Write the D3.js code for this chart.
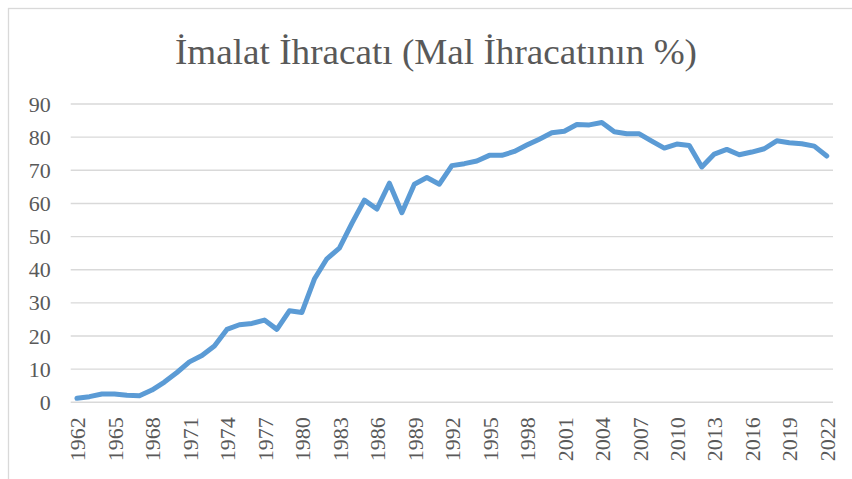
<!DOCTYPE html>
<html>
<head>
<meta charset="utf-8">
<script src="https://cdn.jsdelivr.net/npm/d3@7"></script>
<style>
	body { margin: 0; background: #fff; }
	svg { display: block; }
</style>
</head>
<body>
<div id="chart"></div>
<script>
'use strict'

const years = d3.range(1962, 2023)

const values = [
	1.2, 1.7, 2.5, 2.5, 2.1, 2.0, 3.7, 6.1, 9.0, 12.2,
	14.1, 17.0, 22.0, 23.4, 23.8, 24.8, 22.0, 27.6, 27.1, 37.2,
	43.3, 46.5, 54.0, 61.0, 58.3, 66.1, 57.2, 65.8, 67.8, 65.8,
	71.4, 72.0, 72.8, 74.5, 74.5, 75.7, 77.6, 79.4, 81.3, 81.8,
	83.8, 83.7, 84.4, 81.6, 81.0, 81.0, 78.8, 76.7, 77.9, 77.5,
	71.0, 74.9, 76.3, 74.7, 75.5, 76.5, 78.9, 78.3, 78.0, 77.3, 74.3
]

const yTicks = [0, 10, 20, 30, 40, 50, 60, 70, 80, 90]
const xTickLabels = years.filter((y) => (y - 1962) % 3 === 0)

const title = 'İmalat İhracatı (Mal İhracatının %)'

const width = 852
const height = 479
const plot = {left: 70.7, right: 833, top: 104, bottom: 402.3}
const font = '"Liberation Serif", "Times New Roman", serif'

const svg = d3.select('#chart').append('svg')
	.attr('width', width)
	.attr('height', height)

// chart frame, runs off the right and bottom edges
svg.append('rect')
	.attr('x', 8.5)
	.attr('y', 8.5)
	.attr('width', 860)
	.attr('height', 480)
	.attr('fill', '#fff')
	.attr('stroke', '#d9d9d9')
	.attr('stroke-width', 1.3)

svg.append('text')
	.attr('x', 436)
	.attr('y', 64)
	.attr('text-anchor', 'middle')
	.attr('textLength', 522)
	.attr('lengthAdjust', 'spacingAndGlyphs')
	.style('font-family', font)
	.style('font-size', '35px')
	.style('fill', '#595959')
	.text(title)

const x = d3.scalePoint()
	.domain(years)
	.range([plot.left, plot.right])
	.padding(0.5)

const y = d3.scaleLinear()
	.domain([0, 90])
	.range([plot.bottom, plot.top])

// gridlines
svg.append('g')
	.selectAll('line')
	.data(yTicks)
	.enter()
	.append('line')
	.attr('x1', plot.left)
	.attr('x2', plot.right)
	.attr('y1', (d) => y(d))
	.attr('y2', (d) => y(d))
	.attr('stroke', '#d9d9d9')
	.attr('stroke-width', 1.4)

const yAxis = svg.append('g')
	.attr('transform', `translate(${plot.left - 20},0)`)
	.call(d3.axisLeft(y).tickValues(yTicks).tickSize(0).tickPadding(0))
yAxis.select('.domain').remove()
yAxis.selectAll('text')
	.style('font-family', font)
	.style('font-size', '22px')
	.style('fill', '#595959')

const xAxis = svg.append('g')
	.attr('transform', `translate(0,${plot.bottom})`)
	.call(d3.axisBottom(x).tickValues(xTickLabels).tickSize(0).tickPadding(0))
xAxis.select('.domain').remove()
xAxis.selectAll('text')
	.attr('transform', 'translate(0,15) rotate(-90)')
	.attr('text-anchor', 'end')
	.attr('x', 0)
	.attr('y', 0)
	.attr('dy', '0.35em')
	.style('font-family', font)
	.style('font-size', '22px')
	.style('fill', '#595959')

const line = d3.line()
	.x((d, i) => x(years[i]))
	.y((d) => y(d))

svg.append('path')
	.datum(values)
	.attr('d', line)
	.attr('fill', 'none')
	.attr('stroke', '#5b9bd5')
	.attr('stroke-width', 5)
	.attr('stroke-linejoin', 'round')
	.attr('stroke-linecap', 'round')
</script>
</body>
</html>
